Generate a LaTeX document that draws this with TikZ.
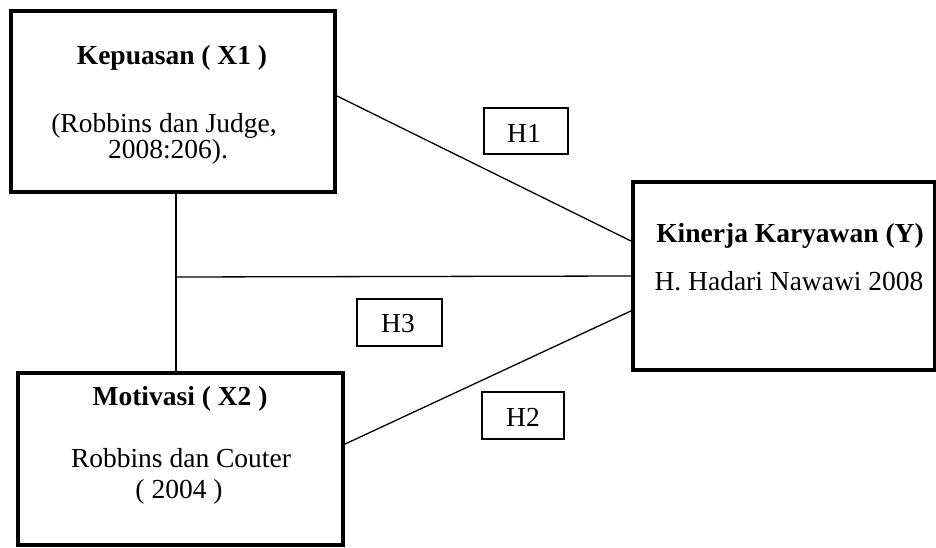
\documentclass[tikz,border=0pt]{standalone}
\usepackage{fontspec}
\setmainfont{Liberation Serif}
\begin{document}
\begin{tikzpicture}[x=1pt,y=-1pt,
  bigbox/.style={draw, line width=3.5pt, inner sep=0pt, outer sep=0pt},
  hbox/.style={draw, line width=1.2pt, inner sep=0pt, outer sep=0pt},
  conn/.style={line width=1.3pt},
  txt/.style={anchor=base, inner sep=0pt, font=\fontsize{27.5}{30}\selectfont},
  btxt/.style={anchor=base, inner sep=0pt, font=\fontsize{27.5}{30}\selectfont\bfseries}]
\useasboundingbox (0,0) rectangle (936,548);
\fill[white] (0,0) rectangle (936,548);
% main boxes
\node[bigbox, minimum width=324pt, minimum height=181pt] (x1) at (173,101.5) {};
\node[bigbox, minimum width=325pt, minimum height=172pt] (x2) at (180.5,459) {};
\node[bigbox, minimum width=302pt, minimum height=188pt] (y) at (784,276) {};
% hypothesis boxes
\node[hbox, minimum width=84pt, minimum height=46pt] (h1) at (526,131) {};
\node[hbox, minimum width=85pt, minimum height=47pt] (h3) at (399.5,322.5) {};
\node[hbox, minimum width=82pt, minimum height=47pt] (h2) at (523,415.5) {};
% texts
\node[btxt] (t1) at (172,65) {Kepuasan ( X1 )};
\node[txt] (t2) at (164,133) {(Robbins dan Judge,};
\node[txt] (t3) at (168,159) {2008:206).};
\node[btxt] (t4) at (180,405) {Motivasi ( X2 )};
\node[txt] (t5) at (181,467) {Robbins dan Couter};
\node[txt] (t6) at (179,498) {( 2004 )};
\node[btxt] (t7) at (790,242) {Kinerja Karyawan (Y)};
\node[txt] (t8) at (789,290) {H. Hadari Nawawi 2008};
\node[txt] (th1) at (524,143) {H1};
\node[txt] (th3) at (398,332) {H3};
\node[txt] (th2) at (523,426) {H2};
% connectors
\coordinate (v) at (176,277);
\draw[conn] ([yshift=6.5pt]x1.east) -- ([yshift=34pt]y.west);
\draw[conn] ([yshift=14pt]x2.east) -- ([yshift=-34pt]y.west);
\draw[conn] (x1.south -| v) -- (x2.north -| v);
\draw[conn] (v) -- (y.west);
\end{tikzpicture}
\end{document}
